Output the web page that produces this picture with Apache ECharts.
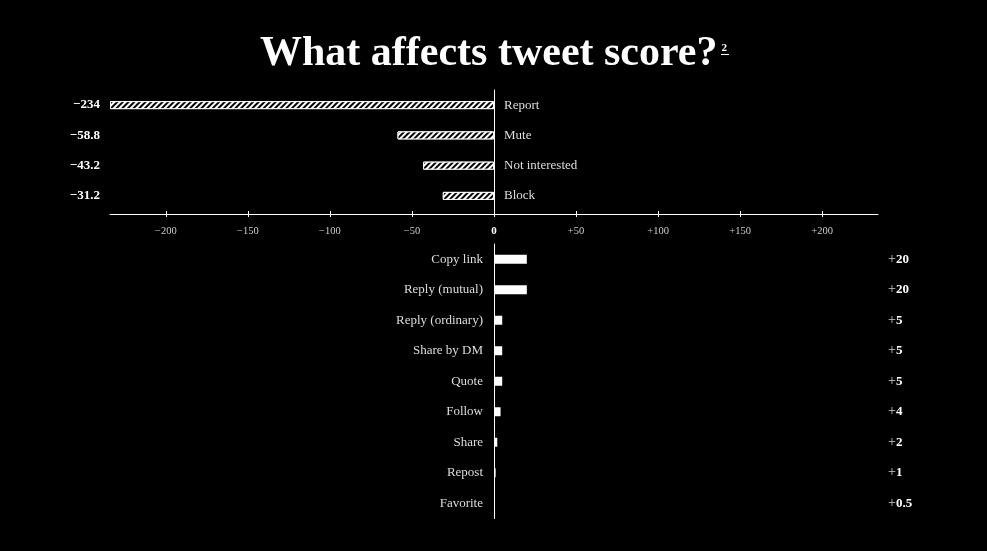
<!DOCTYPE html>
<html>
<head>
<meta charset="utf-8">
<script src="https://cdn.jsdelivr.net/npm/echarts@6/dist/echarts.min.js"></script>
<style>
  html, body { margin: 0; padding: 0; background: #000; }
  #main { width: 987px; height: 551px; }
</style>
</head>
<body>
<div id="main"></div>
<script>
// negative signals (top panel)
var negCats = ['Report', 'Mute', 'Not interested', 'Block'];
var negVals = [-234, -58.8, -43.2, -31.2];
// positive signals (bottom panel)
var posCats = ['Copy link', 'Reply (mutual)', 'Reply (ordinary)', 'Share by DM', 'Quote', 'Follow', 'Share', 'Repost', 'Favorite'];
var posVals = [20, 20, 5, 5, 5, 4, 2, 1, 0.5];
// axis ticks
var tickVals = [-200, -150, -100, -50, 0, 50, 100, 150, 200];

var serif = '"Liberation Serif", "DejaVu Serif", serif';
var myChart = echarts.init(document.getElementById('main'));

function fmtTick(v) {
	if (v === 0) return '{z|0}';
	return v > 0 ? '+' + v : '\u2212' + Math.abs(v);
}

myChart.setOption({
	backgroundColor: '#000',
	animation: false,
	title: {
		text: '{t|What affects tweet score?}{s|2}',
		left: 'center',
		top: 28,
		textStyle: {
			rich: {
				t: { fontFamily: serif, fontSize: 42, fontWeight: 'bold', color: '#fff' },
				s: { fontFamily: serif, fontSize: 11, fontWeight: 'bold', color: '#fff', verticalAlign: 'top', padding: [10, 0, 0, 4] }
			}
		}
	},
	// underline of the footnote mark
	graphic: [
		{ type: 'line', shape: { x1: 721, y1: 54.5, x2: 729, y2: 54.5 }, style: { stroke: '#fff', lineWidth: 1 } }
	],
	grid: [
		{ left: 110, right: 109, top: 90, height: 121 },
		{ left: 110, right: 109, top: 244, height: 274.5 }
	],
	xAxis: [
		{
			gridIndex: 0, type: 'value', min: -234, max: 234, position: 'bottom', offset: 3,
			splitLine: { show: false },
			axisLine: { show: true, lineStyle: { color: '#fff', width: 1 } },
			axisTick: { show: true, length: 3, lineStyle: { color: '#fff' }, customValues: tickVals },
			axisLabel: {
				customValues: tickVals, margin: 12, color: '#ccc', fontFamily: serif, fontSize: 10.5,
				formatter: fmtTick,
				rich: { z: { fontFamily: serif, fontSize: 11, fontWeight: 'bold', color: '#fff' } }
			}
		},
		{
			gridIndex: 0, type: 'value', min: -234, max: 234, position: 'bottom', offset: 3,
			splitLine: { show: false },
			axisLine: { show: false },
			axisTick: { show: true, inside: true, length: 3, lineStyle: { color: '#fff' }, customValues: tickVals },
			axisLabel: { show: false }
		},
		{
			gridIndex: 1, type: 'value', min: -234, max: 234,
			splitLine: { show: false },
			axisLine: { show: false },
			axisTick: { show: false },
			axisLabel: { show: false }
		}
	],
	yAxis: [
		{
			gridIndex: 0, type: 'category', data: negCats, inverse: true, position: 'right',
			axisLine: { onZero: true, lineStyle: { color: '#fff' } },
			axisTick: { show: false },
			axisLabel: { show: false }
		},
		{
			gridIndex: 0, type: 'category', data: negCats, inverse: true, position: 'left',
			axisLine: { show: false, onZero: false },
			axisTick: { show: false },
			axisLabel: {
				margin: 10, color: '#fff', fontFamily: serif, fontSize: 13, fontWeight: 'bold',
				formatter: function(v, i) { return '\u2212' + Math.abs(negVals[i]); }
			}
		},
		{
			gridIndex: 1, type: 'category', data: posCats, inverse: true, position: 'left',
			axisLine: { onZero: true, lineStyle: { color: '#fff' } },
			axisTick: { show: false },
			axisLabel: { show: false }
		},
		{
			gridIndex: 1, type: 'category', data: posCats, inverse: true, position: 'right',
			axisLine: { show: false, onZero: false },
			axisTick: { show: false },
			axisLabel: {
				margin: 10, fontFamily: serif,
				formatter: function(v, i) { return '{p|+}{b|' + posVals[i] + '}'; },
				rich: {
					p: { fontFamily: serif, fontSize: 14, color: '#ccc' },
					b: { fontFamily: serif, fontSize: 13, fontWeight: 'bold', color: '#fff' }
				}
			}
		}
	],
	series: [
		{
			name: 'negative', type: 'bar', xAxisIndex: 0, yAxisIndex: 0,
			data: negVals, barWidth: 8,
			label: {
				show: true, position: 'right', distance: 10, formatter: '{b}',
				color: '#ddd', fontFamily: serif, fontSize: 13
			},
			itemStyle: {
				color: '#000', borderColor: '#fff', borderWidth: 1,
				decal: {
					symbol: 'rect', color: '#fff', backgroundColor: '#000',
					dashArrayX: [1, 0], dashArrayY: [2, 1.5], rotation: -Math.PI / 4
				}
			}
		},
		{
			name: 'positive', type: 'bar', xAxisIndex: 2, yAxisIndex: 2,
			data: posVals, barWidth: 9,
			label: {
				show: true, position: 'left', distance: 11, formatter: '{b}',
				color: '#ddd', fontFamily: serif, fontSize: 13
			},
			itemStyle: { color: '#fff' }
		}
	]
});
</script>
</body>
</html>
